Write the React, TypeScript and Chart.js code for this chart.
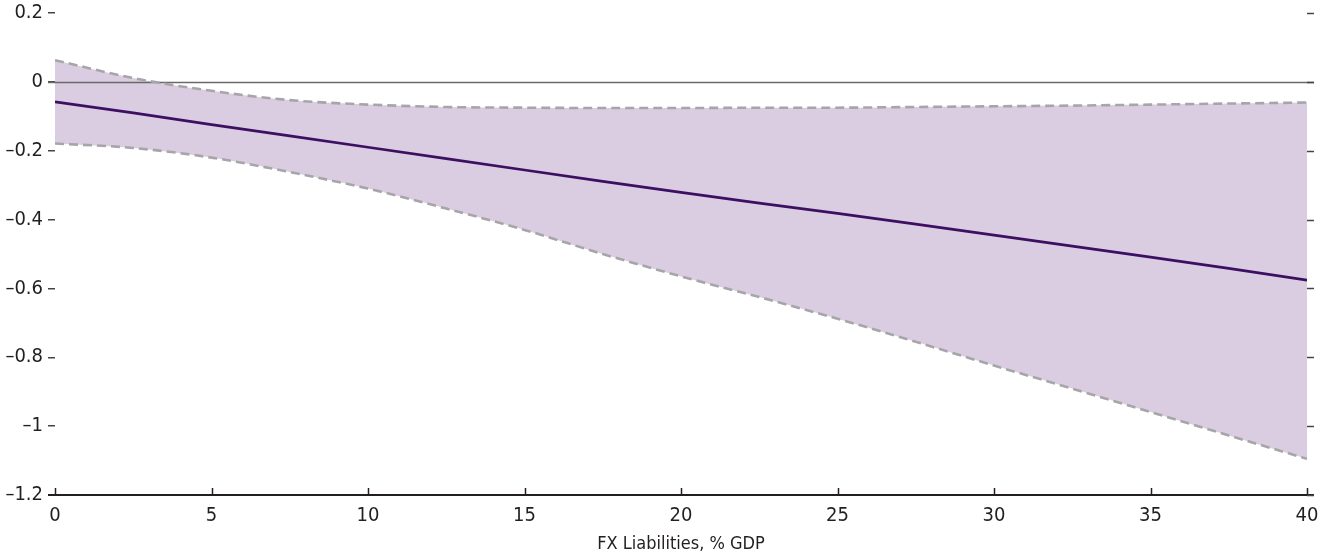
import React, { useEffect, useRef } from 'react';
import { Chart, registerables } from 'chart.js';

Chart.register(...registerables);

// FX liabilities (% of GDP) sample points
const xValues = [0, 2.5, 5, 7.5, 10, 12.5, 15, 17.5, 20, 22.5, 25, 27.5, 30, 32.5, 35, 37.5, 40];
// point estimate
const centerEstimate = [-0.058, -0.09, -0.124, -0.157, -0.19, -0.223, -0.256, -0.289, -0.321, -0.352, -0.382, -0.413, -0.445, -0.477, -0.509, -0.542, -0.576];
// upper confidence bound
const upperBound = [0.063, 0.011, -0.026, -0.053, -0.066, -0.073, -0.075, -0.076, -0.076, -0.075, -0.075, -0.073, -0.071, -0.069, -0.066, -0.063, -0.06];
// lower confidence bound
const lowerBound = [-0.179, -0.192, -0.22, -0.262, -0.31, -0.368, -0.43, -0.5, -0.565, -0.625, -0.688, -0.755, -0.824, -0.891, -0.959, -1.027, -1.095];

const xMin = 0;
const xMax = 40;
const xStep = 5;
const yMin = -1.2;
const yMax = 0.2;
const yStep = 0.2;
const xAxisTitle = 'FX Liabilities, % GDP';

const FONT = '"Liberation Sans Narrow", "Arial Narrow", "DejaVu Sans Condensed", sans-serif';
const TEXT = '#231f20';

function fmtY(v: number): string {
  const r = Math.round(v * 10) / 10;
  if (Math.abs(r) < 1e-9) return '0';
  const s = String(r);
  return s.replace('-', '\u2013');
}

const framePlugin = {
  id: 'frame',
  beforeDatasetsDraw(chart: any) {
    const { ctx, chartArea, scales } = chart;
    const y0 = Math.round(scales.y.getPixelForValue(0)) + 0.5;
    ctx.save();
    ctx.strokeStyle = '#6a6a6a';
    ctx.lineWidth = 1.5;
    ctx.beginPath();
    ctx.moveTo(chartArea.left - 7, y0);
    ctx.lineTo(chartArea.right + 7, y0);
    ctx.stroke();
    ctx.restore();
  },
  afterDraw(chart: any) {
    const { ctx, chartArea, scales } = chart;
    const xs = scales.x;
    const ys = scales.y;
    ctx.save();
    const yb = ys.getPixelForValue(yMin);
    ctx.strokeStyle = '#231f20';
    ctx.lineWidth = 2;
    ctx.beginPath();
    ctx.moveTo(chartArea.left - 7, yb);
    ctx.lineTo(chartArea.right + 7, yb);
    ctx.stroke();
    ctx.lineWidth = 1.5;
    xs.ticks.forEach((t: any) => {
      const px = Math.round(xs.getPixelForValue(t.value)) + 0.5;
      ctx.beginPath();
      ctx.moveTo(px, yb);
      ctx.lineTo(px, yb - 7);
      ctx.stroke();
    });
    ctx.strokeStyle = '#444';
    ys.ticks.forEach((t: any) => {
      const py = Math.round(ys.getPixelForValue(t.value)) + 0.5;
      ctx.beginPath();
      ctx.moveTo(chartArea.right, py);
      ctx.lineTo(chartArea.right + 7, py);
      ctx.stroke();
    });
    ctx.restore();
  },
};

export default function App() {
  const ref = useRef<HTMLCanvasElement | null>(null);
  useEffect(() => {
    document.body.style.margin = '0';
    const canvas = ref.current;
    if (!canvas) return;
    const chart = new Chart(canvas, {
      type: 'line',
      data: {
        labels: xValues,
        datasets: [
          {
            label: 'Estimate',
            data: xValues.map((x, i) => ({ x, y: centerEstimate[i] })),
            borderColor: '#3d0f63',
            borderWidth: 2.7,
            pointRadius: 0,
            fill: false,
            tension: 0,
          },
          {
            label: 'Upper',
            data: xValues.map((x, i) => ({ x, y: upperBound[i] })),
            borderColor: '#a6a6a9',
            borderWidth: 2.6,
            borderDash: [9, 5],
            pointRadius: 0,
            fill: '+1',
            backgroundColor: '#dbcde1',
            cubicInterpolationMode: 'monotone',
          },
          {
            label: 'Lower',
            data: xValues.map((x, i) => ({ x, y: lowerBound[i] })),
            borderColor: '#a6a6a9',
            borderWidth: 2.6,
            borderDash: [9, 5],
            pointRadius: 0,
            fill: false,
            cubicInterpolationMode: 'monotone',
          },
        ],
      },
      options: {
        animation: false,
        responsive: false,
        layout: { padding: { top: 13, right: 21, left: 0, bottom: 0 } },
        plugins: {
          legend: { display: false },
          tooltip: { enabled: false },
          filler: { drawTime: 'beforeDatasetsDraw' },
        } as any,
        scales: {
          x: {
            type: 'linear',
            min: xMin,
            max: xMax,
            border: { display: false },
            grid: { display: false, drawTicks: false },
            ticks: {
              stepSize: xStep,
              padding: 9,
              color: TEXT,
              font: { family: FONT, size: 20 },
              maxRotation: 0,
            },
            title: {
              display: true,
              text: xAxisTitle,
              color: TEXT,
              font: { family: FONT, size: 18 },
              padding: { top: 0, bottom: 3 },
            },
            afterFit(scale: any) {
              scale.height = 63;
              scale.paddingLeft = 0;
              scale.paddingRight = 0;
            },
          },
          y: {
            type: 'linear',
            min: yMin,
            max: yMax,
            border: { display: false },
            grid: {
              drawOnChartArea: false,
              drawTicks: true,
              tickLength: 7,
              color: '#444',
              lineWidth: 1.5,
            },
            ticks: {
              stepSize: yStep,
              padding: 5,
              color: TEXT,
              font: { family: FONT, size: 20 },
              callback: (v: any) => fmtY(Number(v)),
            },
            afterFit(scale: any) {
              scale.width = 55;
              scale.paddingTop = 0;
              scale.paddingBottom = 0;
            },
          },
        },
      },
      plugins: [framePlugin],
    } as any);
    return () => chart.destroy();
  }, []);
  return <canvas ref={ref} width={1328} height={558} style={{ display: 'block' }} />;
}
